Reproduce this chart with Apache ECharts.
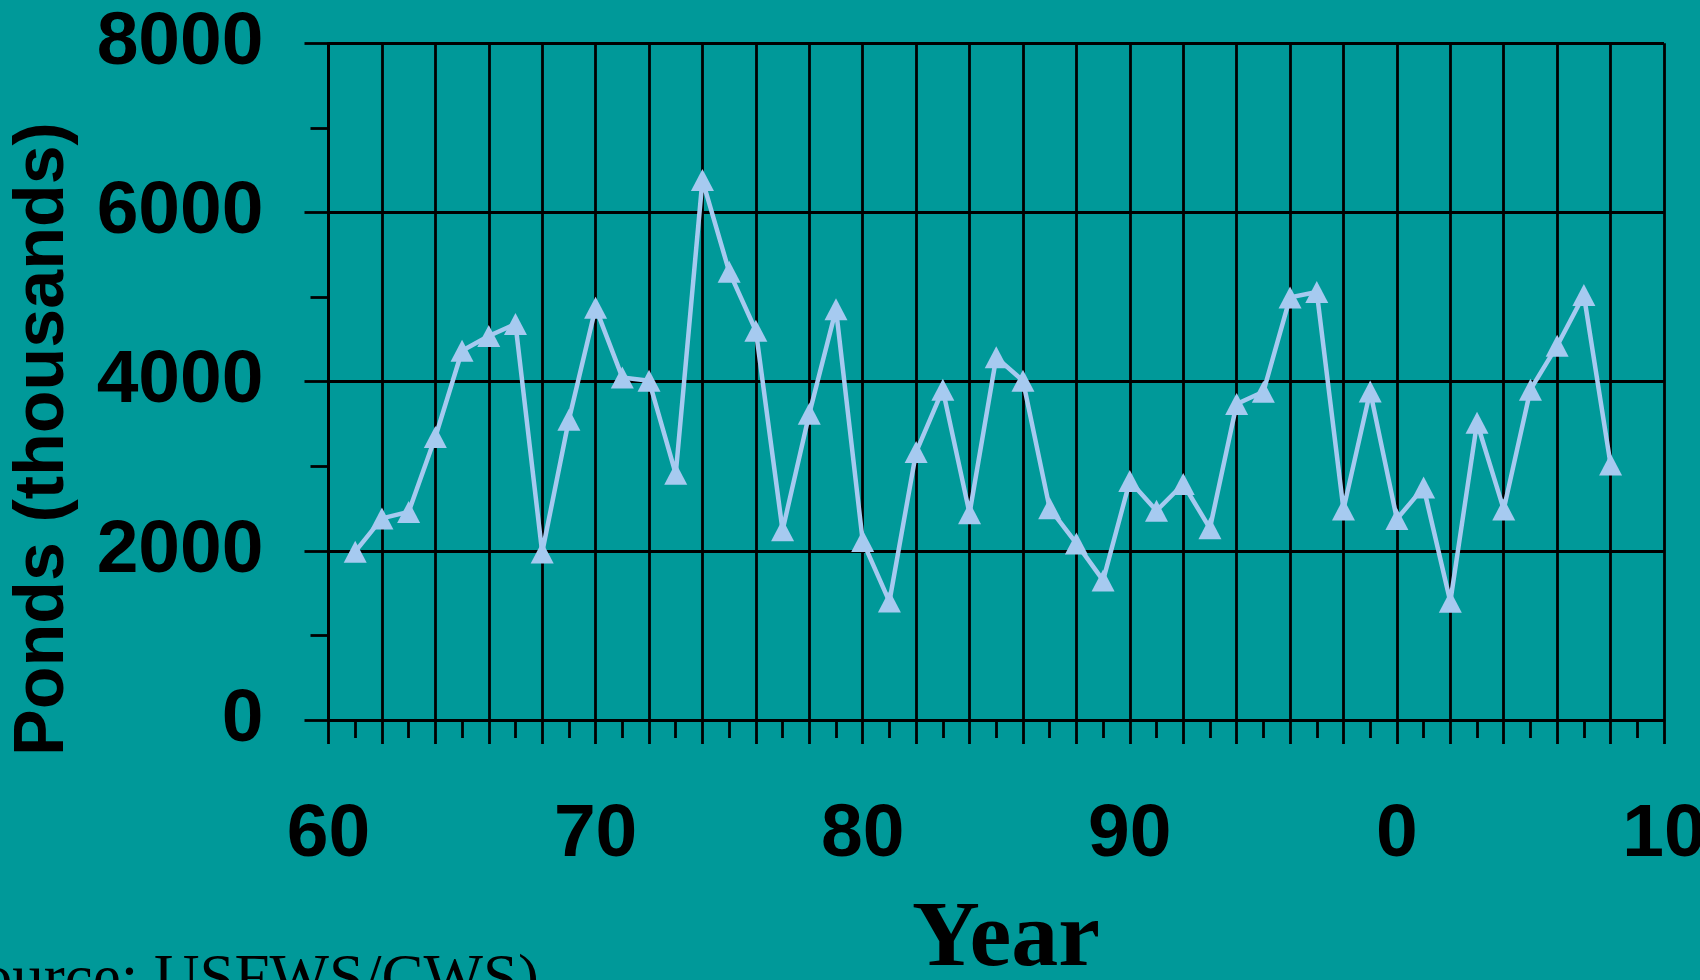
<!DOCTYPE html>
<html>
<head>
<meta charset="utf-8">
<script src="https://cdn.jsdelivr.net/npm/echarts@6/dist/echarts.min.js"></script>
<style>
html,body{margin:0;padding:0;background:#009999;}
#chart{width:1700px;height:980px;}
</style>
</head>
<body>
<div id="chart"></div>
<script>
// ---- data ----
const years = [1961,1962,1963,1964,1965,1966,1967,1968,1969,1970,
               1971,1972,1973,1974,1975,1976,1977,1978,1979,1980,
               1981,1982,1983,1984,1985,1986,1987,1988,1989,1990,
               1991,1992,1993,1994,1995,1996,1997,1998,1999,2000,
               2001,2002,2003,2004,2005,2006,2007,2008];
const ponds = [1990,2383,2460,3345,4365,4539,4681,1980,3550,4875,
               4050,4010,2910,6383,5300,4602,2242,3620,4855,2115,
               1400,3168,3905,2443,4287,4010,2502,2088,1650,2825,
               2474,2790,2266,3735,3880,4996,5059,2490,3885,2376,
               2750,1398,3514,2490,3905,4425,5024,3022];
const yTicks = [0,2000,4000,6000,8000];
const xLabelYears = [1960,1970,1980,1990,2000,2010];
const yAxisTitle = 'Ponds (thousands)';
const xAxisTitle = 'Year';
const sourceText = '(Source: USFWS/CWS)';

const chart = echarts.init(document.getElementById('chart'), null, {renderer:'canvas'});
const tickFont = "'Liberation Sans', Arial, sans-serif";
const option = {
  backgroundColor: '#009999',
  animation: false,
  grid: {left: 328.5, right: 36, top: 43.3, bottom: 260, containLabel: false, outerBoundsMode: 'none'},
  xAxis: {
    type: 'value', min: 1960, max: 2010, interval: 2,
    axisLine: {show: true, onZero: false, lineStyle: {color: '#000', width: 2.8}},
    axisTick: {show: true, length: 24, lineStyle: {color: '#000', width: 2.8}},
    minorTick: {show: true, splitNumber: 2, length: 18, lineStyle: {color: '#000', width: 2.8}},
    splitLine: {show: true, lineStyle: {color: '#000', width: 2.8}},
    axisLabel: {
      show: true, margin: 78, color: '#000', fontSize: 75, fontWeight: 'bold', fontFamily: tickFont,
      formatter: v => xLabelYears.indexOf(v) >= 0 ? String(v % 100) : ''
    }
  },
  yAxis: {
    type: 'value', min: 0, max: 8000, interval: 2000,
    axisLine: {show: true, lineStyle: {color: '#000', width: 2.8}},
    axisTick: {show: true, length: 24, lineStyle: {color: '#000', width: 2.8}},
    minorTick: {show: true, splitNumber: 2, length: 18, lineStyle: {color: '#000', width: 2.8}},
    splitLine: {show: true, lineStyle: {color: '#000', width: 2.8}},
    axisLabel: {
      show: true, margin: 65, color: '#000', fontSize: 75, fontWeight: 'bold', fontFamily: tickFont,
      formatter: v => yTicks.indexOf(v) >= 0 ? String(v) : ''
    }
  },
  series: [{
    type: 'line',
    data: years.map((y, i) => [y, ponds[i]]),
    symbol: 'triangle',
    symbolSize: [23, 22],
    showAllSymbol: true,
    lineStyle: {color: '#A6CAF0', width: 4.5},
    itemStyle: {color: '#A6CAF0'},
    z: 5
  }],
  graphic: [
    {type: 'text', x: 44, y: 439, rotation: Math.PI / 2,
     style: {text: yAxisTitle, font: "bold 70px 'Liberation Sans', Arial, sans-serif", fill: '#000',
             textAlign: 'center', textVerticalAlign: 'middle'}},
    {type: 'text', x: 1006, y: 941,
     style: {text: xAxisTitle, font: "bold 94px 'Liberation Serif', 'Times New Roman', serif", fill: '#000',
             textAlign: 'center', textVerticalAlign: 'middle'}},
    {type: 'text', x: 539, y: 981,
     style: {text: sourceText, font: "63px 'Liberation Serif', 'Times New Roman', serif", fill: '#000',
             textAlign: 'right', textVerticalAlign: 'middle'}}
  ]
};
chart.setOption(option);
</script>
</body>
</html>
